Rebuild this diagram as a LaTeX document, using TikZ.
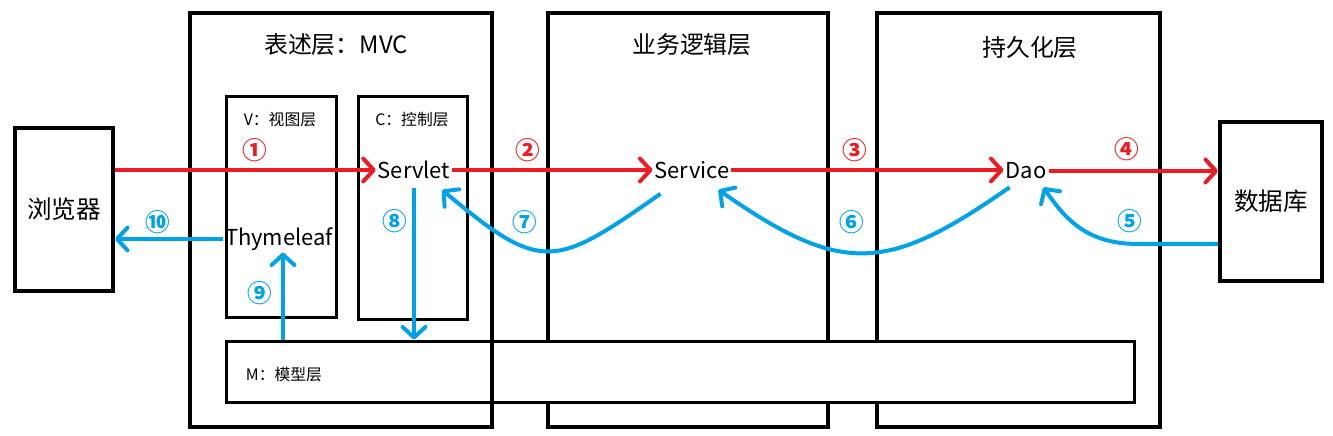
\documentclass[tikz,border=0pt]{standalone}
\usepackage{fontspec}
\setmainfont{Noto Sans CJK SC}
\usepackage{tikz}
\usetikzlibrary{arrows.meta,positioning}
\definecolor{paintred}{HTML}{ED1C24}
\definecolor{paintblue}{HTML}{00A2E8}
\tikzset{
 frame/.style={line width=0.08cm},
 subbox/.style={line width=0.06cm},
 flow/.style={line width=0.08cm,-{Straight Barb[length=6pt,width=13pt,round]}},
 redflow/.style={flow,paintred},
 blueflow/.style={flow,paintblue},
 word/.style={inner sep=1pt,font=\fontsize{12.5}{14}\selectfont},
 title/.style={font=\fontsize{13.6}{16}\selectfont},
 small/.style={font=\fontsize{9}{11}\selectfont},
 stepnum/.style={font=\fontsize{14}{16}\selectfont\bfseries}
}
\begin{document}
\begin{tikzpicture}[x=0.02cm,y=0.02cm]
\useasboundingbox (0,0) rectangle (1333,436);
\draw[frame] (548,9) rectangle (828,423);
\draw[frame] (877,9) rectangle (1160,423);
\node[draw,subbox,fill=white,minimum width=18.18cm,minimum height=1.24cm] (mbox) at (680.5,64) {};
\draw[frame] (190,9) rectangle (492,423);
\draw[subbox] (226,118) rectangle (336,339);
\draw[subbox] (358,116) rectangle (467,339);
\node[title] (t1) at (336,391) {表述层：MVC};
\node[title] (t2) at (692,391) {业务逻辑层};
\node[title] (t3) at (1030,388) {持久化层};
\node[small] (vlab) at (280,316) {V：视图层};
\node[small] (clab) at (412,316) {C：控制层};
\node[small] (mlab) at (284,61) {M：模型层};
\node[draw,frame,minimum width=1.96cm,minimum height=3.26cm,font=\fontsize{14}{16}\selectfont] (browser) at (64,226.5) {浏览器};
\node[draw,frame,minimum width=2.04cm,minimum height=3.18cm,font=\fontsize{14}{16}\selectfont] (db) at (1271,234.5) {数据库};
\node[word] (servlet) at (414,266) {Servlet};
\node[word] (service) at (692,266) {Service};
\node[word] (dao) at (1026,265) {Dao};
\node[word] (thyme) at (279,197) {Thymeleaf};
\foreach \x/\y/\num/\col [count=\i] in {255/286/①/paintred,528/286/②/paintred,855/286/③/paintred,1127/287/④/paintred,1130/215/⑤/paintblue,852/214/⑥/paintblue,525/214/⑦/paintblue,395/215/⑧/paintblue,260/143/⑨/paintblue,158/214/⑩/paintblue}
 \node[stepnum,text=\col] (n\i) at (\x,\y) {\num};
\draw[redflow] (browser.east |- servlet.west) -- (servlet.west);
\draw[redflow] (servlet.east) -- (service.west);
\draw[redflow] (service.east) -- (dao.west |- service.east);
\draw[redflow] (dao.east) -- (db.west |- dao.east);
\draw[blueflow] ([yshift=-0.85cm]db.west) -- ++(-80,0) .. controls +(-50,0) and +(-56:40) .. ([xshift=-0.1cm,yshift=-0.12cm]dao.south east);
\draw[blueflow] ([xshift=0.12cm,yshift=-0.12cm]dao.south west) .. controls +(215:150) and +(-35:150) .. ([xshift=-0.26cm,yshift=-0.18cm]service.south east);
\draw[blueflow] ([xshift=0.16cm,yshift=-0.26cm]service.south west) .. controls +(215:130) and +(-40:130) .. ([xshift=-0.2cm,yshift=-0.18cm]servlet.south east);
\draw[blueflow] ([yshift=-0.14cm]servlet.south) -- (servlet.south |- mbox.north);
\draw[blueflow] ([xshift=0.08cm]thyme.south |- mbox.north) -- ([xshift=0.08cm]thyme.south);
\draw[blueflow] (thyme.west) -- (browser.east |- thyme.west);
\end{tikzpicture}
\end{document}
